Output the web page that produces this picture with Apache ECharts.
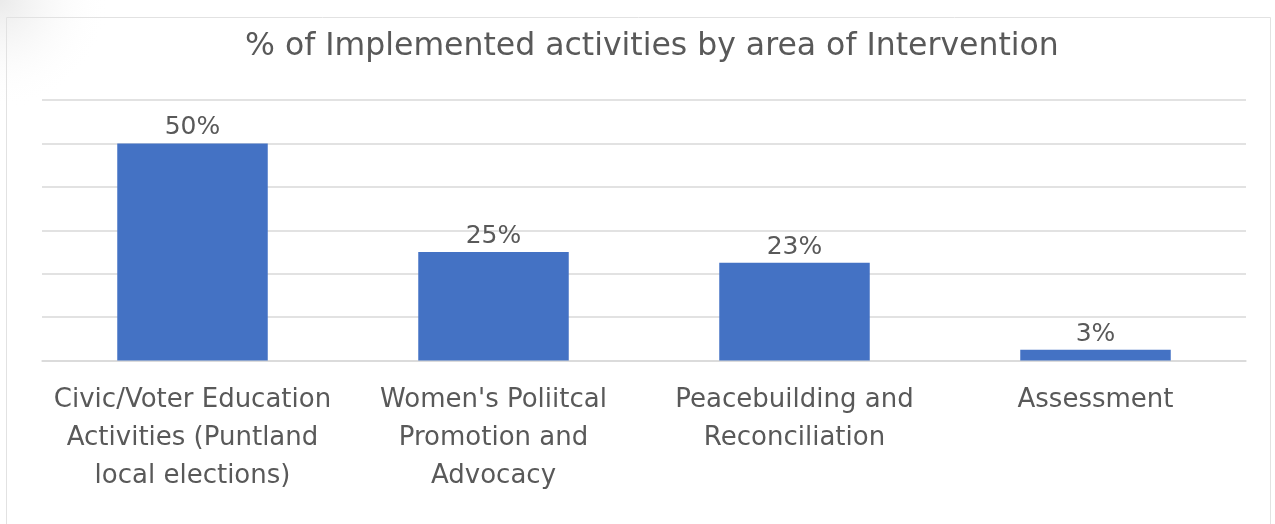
<!DOCTYPE html>
<html>
<head>
<meta charset="utf-8">
<script src="https://cdn.jsdelivr.net/npm/echarts@6/dist/echarts.min.js"></script>
<style>
html,body{margin:0;padding:0;background:#fff;}
#chart{width:1275px;height:524px;}
</style>
</head>
<body>
<div id="chart"></div>
<script>
const titleText = '% of Implemented activities by area of Intervention';
const categories = [
  'Civic/Voter Education\nActivities (Puntland\nlocal elections)',
  "Women's Poliitcal\nPromotion and\nAdvocacy",
  'Peacebuilding and\nReconciliation',
  'Assessment'
];
const values = [50, 25, 22.5, 2.5];
const yMin = 0, yMax = 60, yInterval = 10;

const FONT = 'DejaVu Sans';
const chart = echarts.init(document.getElementById('chart'), null, {renderer: 'canvas'});
chart.setOption({
  backgroundColor: '#ffffff',
  animation: false,
  title: {
    text: titleText,
    left: 240,
    top: 26,
    textStyle: {fontFamily: FONT, fontSize: 31.5, fontWeight: 'normal', color: '#595959'}
  },
  graphic: [
    {type: 'rect', shape: {x: 6.5, y: 17.5, width: 1264, height: 520}, style: {fill: 'none', stroke: '#e2e2e2', lineWidth: 1}, silent: true, z: -1},
    {type: 'rect', shape: {x: 0, y: 0, width: 160, height: 110},
      style: {fill: new echarts.graphic.RadialGradient(0, 0, 1, [{offset: 0, color: 'rgba(220,220,220,0.6)'}, {offset: 1, color: 'rgba(255,255,255,0)'}])},
      silent: true, z: -2}
  ],
  grid: {left: 42, right: 29, top: 100, bottom: 163.5, containLabel: false},
  xAxis: {
    type: 'category',
    data: categories,
    axisLine: {show: true, lineStyle: {color: '#d9d9d9', width: 1.5}},
    axisTick: {show: false},
    axisLabel: {
      interval: 0, margin: 21, color: '#595959', fontFamily: FONT, fontSize: 26, lineHeight: 38,
      verticalAlign: 'top'
    }
  },
  yAxis: {
    type: 'value', min: yMin, max: yMax, interval: yInterval,
    axisLabel: {show: false}, axisLine: {show: false}, axisTick: {show: false},
    splitLine: {lineStyle: {color: '#d9d9d9', width: 1.5}}
  },
  series: [{
    type: 'bar',
    data: values,
    barWidth: '50%',
    itemStyle: {color: '#4472c4'},
    label: {
      show: true, position: 'top', distance: 3,
      color: '#595959', fontFamily: FONT, fontSize: 25,
      formatter: p => Math.round(p.value) + '%'
    }
  }]
});
</script>
</body>
</html>
